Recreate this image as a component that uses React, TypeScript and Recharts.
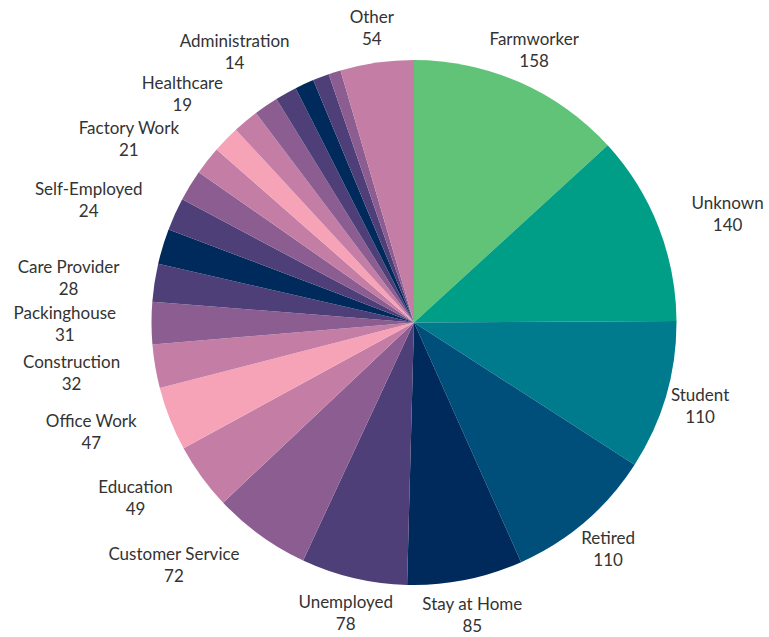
import { PieChart, Pie, Cell } from 'recharts';

const categories = [
  'Farmworker', 'Unknown', 'Student', 'Retired', 'Stay at Home', 'Unemployed',
  'Customer Service', 'Education', 'Office Work', 'Construction', 'Packinghouse',
  'Care Provider', '', 'Self-Employed', '', 'Factory Work', '', 'Healthcare',
  '', '', 'Administration', '', '', 'Other',
];
// slices without a name carry no label in the original chart
const counts = [
  158, 140, 110, 110, 85, 78,
  72, 49, 47, 32, 31,
  28, 26, 24, 23, 21, 20, 19,
  18, 16, 14, 12, 9, 54,
];

const GREEN = '#60c378';
const TEAL = '#009e86';
const TEAL_BLUE = '#007b8e';
const BLUE = '#004f7b';
const NAVY = '#002a5b';
const DARK_PURPLE = '#4e3f78';
const PURPLE = '#8c5d91';
const MAUVE = '#c47ea5';
const PINK = '#f6a3b8';

const sliceColors = [
  GREEN, TEAL, TEAL_BLUE, BLUE, NAVY, DARK_PURPLE, PURPLE, MAUVE, PINK,
  MAUVE, PURPLE, DARK_PURPLE, NAVY, DARK_PURPLE, PURPLE, MAUVE, PINK,
  MAUVE, PURPLE, DARK_PURPLE, NAVY, DARK_PURPLE, PURPLE, MAUVE,
];

const data = categories.map((name, i) => ({ name, value: counts[i] }));

const FONT_SIZE = 17;
const FONT = `${FONT_SIZE}px Lato`;
let ctx: CanvasRenderingContext2D | null = null;
function textWidth(s: string) {
  if (!ctx) ctx = document.createElement('canvas').getContext('2d');
  if (!ctx) return s.length * 8;
  ctx.font = FONT;
  return ctx.measureText(s).width;
}

function renderLabel(props: any) {
  const { cx, cy, midAngle, outerRadius } = props;
  const name = props.payload?.name ?? props.name;
  const value = props.payload?.value ?? props.value;
  if (!name) return null;
  const rad = (-midAngle * Math.PI) / 180;
  const dist = outerRadius + 35.5;
  const ax = cx + dist * Math.cos(rad);
  const ay = cy + dist * Math.sin(rad);
  const w = Math.max(textWidth(name), textWidth(String(value)));
  const h = 40;
  // centred box; push it outward when it would cover the pie
  const nx = Math.max(ax - w / 2, Math.min(cx, ax + w / 2));
  const ny = Math.max(ay - h / 2, Math.min(cy, ay + h / 2));
  let x = ax;
  if (Math.hypot(nx - cx, ny - cy) < outerRadius - 2) {
    x = ax > cx ? ax + w / 2 : ax - w / 2;
  }
  return (
    <text x={x} y={ay} textAnchor="middle" fill="#333" fontSize={FONT_SIZE} fontFamily="Lato">
      <tspan x={x} dy={-4.5}>{name}</tspan>
      <tspan x={x} dy={22}>{value}</tspan>
    </text>
  );
}

export default function App() {
  return (
    <div style={{ position: 'absolute', left: 0, top: 0, width: 769, height: 637, background: '#fff' }}>
      <PieChart width={769} height={637} margin={{ top: 0, right: 0, bottom: 0, left: 0 }}>
        <Pie
          data={data}
          dataKey="value"
          nameKey="name"
          cx={414}
          cy={322.5}
          outerRadius={262.5}
          startAngle={90}
          endAngle={-270}
          stroke="none"
          label={renderLabel}
          labelLine={false}
          isAnimationActive={false}
        >
          {data.map((d, i) => (
            <Cell key={i} fill={sliceColors[i]} stroke="none" />
          ))}
        </Pie>
      </PieChart>
    </div>
  );
}
